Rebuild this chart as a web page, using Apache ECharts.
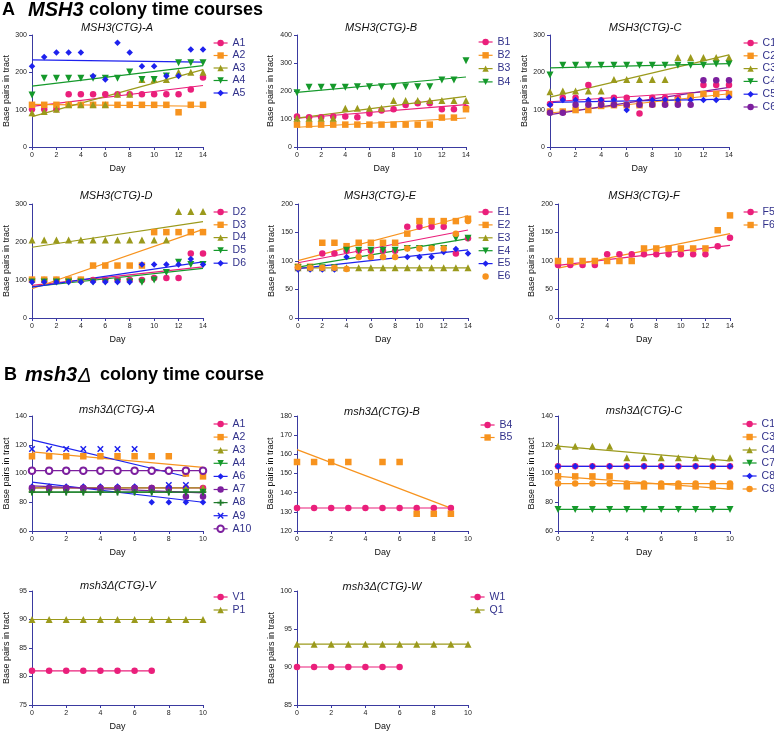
<!DOCTYPE html>
<html><head><meta charset="utf-8">
<script src="https://cdn.jsdelivr.net/npm/echarts@6/dist/echarts.min.js"></script>
<style>html,body{margin:0;padding:0;background:#fff}#c{width:774px;height:732px}</style>
</head><body><div id="c"></div>
<script>
// ---------- x values (days) ----------
const days14 = [0,1,2,3,4,5,6,7,8,9,10,11,12,13,14];
const days10 = [0,1,2,3,4,5,6,7,8,9,10];

// ---------- A: MSH3 colony time courses ----------
const MSH3_A_A1 = [101,101,101,141,141,141,141,141,141,141,141,141,141,154,186];
const MSH3_A_A2 = [113,113,113,113,113,113,113,113,113,113,113,113,93,113,113];
const MSH3_A_A3 = [92,95,101,113,113,113,113,141,141,181,181,181,200,200,200];
const MSH3_A_A4 = [139,184,184,184,184,184,184,184,201,181,181,190,226,226,226];
const MSH3_A_A5 = [216,241,253,253,253,190,181,279,253,216,216,190,190,261,261];

const MSH3_B_B1 = [109,106,106,109,109,106,120,130,135,150,156,156,135,135,140];
const MSH3_B_B2 = [80,80,80,80,80,80,80,80,80,80,80,80,105,105,135];
const MSH3_B_B3 = [103,103,103,103,138,138,138,138,166,166,166,166,166,166,166];
const MSH3_B_B4 = [194,213,213,213,213,215,215,215,215,215,215,215,239,239,308];

const MSH3_C_C1 = [115,132,132,166,125,132,132,90,132,132,132,132,166,166,166];
const MSH3_C_C2 = [95,95,99,99,110,112,112,112,115,118,125,135,142,142,142];
const MSH3_C_C3 = [148,150,150,150,150,181,181,181,181,181,240,240,240,240,240];
const MSH3_C_C4 = [193,219,219,219,219,219,219,219,219,219,219,219,219,222,222];
const MSH3_C_C5 = [113,126,126,126,126,126,99,126,126,126,126,126,126,126,133];
const MSH3_C_C6 = [92,92,113,113,113,113,113,113,113,113,113,113,179,179,179];

const MSH3_D_D2 = [100,100,100,100,100,100,100,100,100,100,105,105,105,170,170];
const MSH3_D_D3 = [101,101,101,101,101,138,138,138,138,138,226,226,226,226,226];
const MSH3_D_D4 = [205,205,205,205,205,205,205,205,205,205,205,205,280,280,280];
const MSH3_D_D5 = [95,95,95,95,95,95,95,95,95,94,100,120,147,141,141];
const MSH3_D_D6 = [95,95,95,95,95,95,95,95,95,141,141,141,141,155,141];

const MSH3_E_E1 = [88,88,113,113,118,118,118,118,118,160,160,160,160,113,140];
const MSH3_E_E2 = [90,90,132,132,126,132,132,132,132,148,170,170,170,170,174];
const MSH3_E_E3 = [88,88,88,88,88,88,88,88,88,88,88,88,88,88,88];
const MSH3_E_E4 = [88,88,88,88,119,119,119,119,119,122,122,122,122,140,140];
const MSH3_E_E5 = [85,85,85,85,107,107,107,107,107,107,107,107,116,121,113];
const MSH3_E_E6 = [89,88,88,88,86,107,107,107,107,122,122,122,122,148,170];

const MSH3_F_F5 = [93,93,93,93,112,112,112,112,112,112,112,112,112,126,141];
const MSH3_F_F6 = [100,100,100,100,100,100,100,122,122,122,122,122,122,154,180];

// ---------- B: msh3Δ colony time course ----------
const D_A_A1  = [90,90,90,90,90,90,90,90,90,90,90];
const D_A_A2  = [112,112,112,112,112,112,112,112,112,100,98];
const D_A_A3  = [90,90,90,90,90,90,90,90,90,90,90];
const D_A_A4  = [87,87,87,87,87,87,87,87,87,87,87];
const D_A_A6  = [91,91,91,91,91,91,91,80,80,80,80];
const D_A_A7  = [90,90,90,90,90,90,90,90,90,84,84];
const D_A_A8  = [87,87,87,87,87,87,87,87,87,87,87];
const D_A_A9  = [117,117,117,117,117,117,117,null,92,92,null];
const D_A_A10 = [102,102,102,102,102,102,102,102,102,102,102];

const D_B_B4 = [132,132,132,132,132,132,132,132,132,132,null];
const D_B_B5 = [156,156,156,156,null,156,156,129,129,129,null];

const D_C_C1 = [105,105,105,105,105,105,105,105,105,105,105];
const D_C_C3 = [98,98,98,98,91,91,91,91,91,91,91];
const D_C_C4 = [119,119,119,119,111,111,111,111,111,111,111];
const D_C_C7 = [75,75,75,75,75,75,75,75,75,75,75];
const D_C_C8 = [105,105,105,105,105,105,105,105,105,105,105];
const D_C_C9 = [93,93,93,93,93,93,93,93,93,93,93];

const D_V_V1 = [81,81,81,81,81,81,81,81];
const D_V_P1 = [90,90,90,90,90,90,90,90,90,90,90];
const D_W_W1 = [90,90,90,90,90,90,90];
const D_W_Q1 = [93,93,93,93,93,93,93,93,93,93,93];

// ---------- styling ----------
const COL = {pink:'#ea1f7b', orange:'#f7931e', olive:'#9b9a1c', green:'#15992b', blue:'#1e22ee', purple:'#7c1f9e', dkgreen:'#1f7a2a'};
const SYM = {
  circle:'circle', square:'rect', tri:'triangle', dtri:'path://M0,0L10,0L5,9Z', diamond:'diamond',
  plus:'path://M3.6,0H6.4V3.6H10V6.4H6.4V10H3.6V6.4H0V3.6H3.6Z',
  cross:'path://M0,1.6L1.6,0L5,3.4L8.4,0L10,1.6L6.6,5L10,8.4L8.4,10L5,6.6L1.6,10L0,8.4L3.4,5Z',
  ring:'emptyCircle'
};
const AXIS = '#3a3aa0', LEGTXT = '#30308a', FONT = '"Liberation Sans", Arial, sans-serif';

// [label, values, colour, symbol, fitted]
const panels = [
  {t:'MSH3(CTG)-A', tx:117, ty:28, g:[32,35,171,112], xs:days14, xmax:14, y:[0,300,100], yg:20, leg:[213,43,12.5], s:[
    ['A1',MSH3_A_A1,'pink','circle',1],['A2',MSH3_A_A2,'orange','square',1],['A3',MSH3_A_A3,'olive','tri',1],
    ['A4',MSH3_A_A4,'green','dtri',1],['A5',MSH3_A_A5,'blue','diamond',1]]},
  {t:'MSH3(CTG)-B', tx:381, ty:28, g:[297,35,169,112], xs:days14, xmax:14, y:[0,400,100], yg:22, leg:[478,42,13.3], s:[
    ['B1',MSH3_B_B1,'pink','circle',1],['B2',MSH3_B_B2,'orange','square',1],['B3',MSH3_B_B3,'olive','tri',1],
    ['B4',MSH3_B_B4,'green','dtri',1]]},
  {t:'MSH3(CTG)-C', tx:645, ty:28, g:[550,35,179,112], xs:days14, xmax:14, y:[0,300,100], yg:15, leg:[743,43,12.8], s:[
    ['C1',MSH3_C_C1,'pink','circle',1],['C2',MSH3_C_C2,'orange','square',1],['C3',MSH3_C_C3,'olive','tri',1],
    ['C4',MSH3_C_C4,'green','dtri',1],['C5',MSH3_C_C5,'blue','diamond',1],['C6',MSH3_C_C6,'purple','circle',1]]},
  {t:'MSH3(CTG)-D', tx:116, ty:196, g:[32,204,171,114], xs:days14, xmax:14, y:[0,300,100], yg:20, leg:[213,212,12.8], s:[
    ['D2',MSH3_D_D2,'pink','circle',1],['D3',MSH3_D_D3,'orange','square',1],['D4',MSH3_D_D4,'olive','tri',1],
    ['D5',MSH3_D_D5,'green','dtri',1],['D6',MSH3_D_D6,'blue','diamond',1]]},
  {t:'MSH3(CTG)-E', tx:380, ty:196, g:[298,204,170,114], xs:days14, xmax:14, y:[0,200,50], yg:22, leg:[478,212,12.9], s:[
    ['E1',MSH3_E_E1,'pink','circle',1],['E2',MSH3_E_E2,'orange','square',1],['E3',MSH3_E_E3,'olive','tri',1],
    ['E4',MSH3_E_E4,'green','dtri',1],['E5',MSH3_E_E5,'blue','diamond',1],['E6',MSH3_E_E6,'orange','circle',0]]},
  {t:'MSH3(CTG)-F', tx:644, ty:196, g:[558,204,172,114], xs:days14, xmax:14, y:[0,200,50], yg:22, leg:[743,212,13], s:[
    ['F5',MSH3_F_F5,'pink','circle',1],['F6',MSH3_F_F6,'orange','square',1]]},
  {t:'msh3Δ(CTG)-A', tx:117, ty:410, g:[32,416,171,115], xs:days10, xmax:10, y:[60,140,20], yg:21, leg:[213,424,13.1], s:[
    ['A1',D_A_A1,'pink','circle',1],['A2',D_A_A2,'orange','square',1],['A3',D_A_A3,'olive','tri',1],
    ['A4',D_A_A4,'green','dtri',1],['A6',D_A_A6,'blue','diamond',1],['A7',D_A_A7,'purple','circle',1],
    ['A8',D_A_A8,'dkgreen','plus',1],['A9',D_A_A9,'blue','cross',1],['A10',D_A_A10,'purple','ring',1]]},
  {t:'msh3Δ(CTG)-B', tx:382, ty:412, g:[297,416,171,115], xs:days10, xmax:10, y:[120,180,10], yg:22, leg:[480,425,12.5], s:[
    ['B4',D_B_B4,'pink','circle',1],['B5',D_B_B5,'orange','square',1]]},
  {t:'msh3Δ(CTG)-C', tx:644, ty:411, g:[558,416,172,115], xs:days10, xmax:10, y:[60,140,20], yg:22, leg:[742,424,13], s:[
    ['C1',D_C_C1,'pink','circle',1],['C3',D_C_C3,'orange','square',1],['C4',D_C_C4,'olive','tri',1],
    ['C7',D_C_C7,'green','dtri',1],['C8',D_C_C8,'blue','diamond',1],['C9',D_C_C9,'orange','circle',1]]},
  {t:'msh3Δ(CTG)-V', tx:118, ty:586, g:[32,591,171,114], xs:days10, xmax:10, y:[75,95,5], yg:21, leg:[213,597,13], s:[
    ['V1',D_V_V1,'pink','circle',1],['P1',D_V_P1,'olive','tri',1]]},
  {t:'msh3Δ(CTG)-W', tx:382, ty:587, g:[297,591,171,114], xs:days10, xmax:10, y:[85,100,5], yg:20, leg:[470,597,13], s:[
    ['W1',D_W_W1,'pink','circle',1],['Q1',D_W_Q1,'olive','tri',1]]}
];

function fitLine(xs, ys){
  const pts = ys.map((y,i)=>[xs[i],y]).filter(p=>p[1]!=null);
  const n = pts.length; let sx=0,sy=0,sxx=0,sxy=0;
  pts.forEach(([x,y])=>{sx+=x;sy+=y;sxx+=x*x;sxy+=x*y;});
  const b = (n*sxy-sx*sy)/(n*sxx-sx*sx), a = (sy-b*sx)/n;
  const x0 = pts[0][0], x1 = pts[n-1][0];
  return [[x0,a+b*x0],[x1,a+b*x1]];
}

const option = {animation:false, backgroundColor:'#fff', textStyle:{fontFamily:FONT},
  grid:[], xAxis:[], yAxis:[], legend:[], series:[], graphic:[]};

panels.forEach((p,i)=>{
  option.grid.push({left:p.g[0], top:p.g[1], width:p.g[2], height:p.g[3], containLabel:false});
  option.xAxis.push({type:'value', gridIndex:i, min:0, max:p.xmax, interval:2,
    name:'Day', nameLocation:'middle', nameGap:17, nameTextStyle:{fontSize:9, color:'#111', fontFamily:FONT},
    axisLine:{onZero:false, lineStyle:{color:AXIS, width:1}}, axisTick:{length:3, lineStyle:{color:AXIS}},
    axisLabel:{fontSize:7, color:'#222', margin:5, fontFamily:FONT}, splitLine:{show:false}});
  option.yAxis.push({type:'value', gridIndex:i, min:p.y[0], max:p.y[1], interval:p.y[2],
    name:'Base pairs in tract', nameLocation:'middle', nameGap:p.yg, nameTextStyle:{fontSize:9, color:'#111', fontFamily:FONT},
    axisLine:{show:true, onZero:false, lineStyle:{color:AXIS, width:1}}, axisTick:{show:true, length:3, lineStyle:{color:AXIS}},
    axisLabel:{fontSize:7, color:'#222', margin:5, fontFamily:FONT}, splitLine:{show:false}});
  option.graphic.push({type:'text', x:p.tx, y:p.ty, silent:true,
    style:{text:p.t, font:'italic 11px '+FONT, fill:'#111', align:'center', verticalAlign:'middle'}});
  const legData = [];
  p.s.forEach(([lab, vals, col, sym, fitted])=>{
    const c = COL[col];
    const nm = 'p'+i+'|'+lab;
    const pts = vals.map((v,k)=>[p.xs[k], v]).filter(q=>q[1]!=null);
    const isRing = sym==='ring';
    option.series.push({type:'line', name:nm, xAxisIndex:i, yAxisIndex:i, data:pts,
      symbol:SYM[sym], symbolSize: sym==='tri'||sym==='dtri' ? 7 : 6.5, showSymbol:true,
      lineStyle:{opacity:0, width:0}, itemStyle:{color:c, borderColor:c, borderWidth:isRing?1.5:0}, z:3});
    if (fitted) {
      option.series.push({type:'line', name:'fit '+nm, xAxisIndex:i, yAxisIndex:i, data:fitLine(p.xs, vals),
        symbol:'none', lineStyle:{color:c, width:1.2}, z:2, silent:true});
    }
    legData.push({name:nm, lineStyle:{color:c, width:1.2, opacity: fitted?1:0, type:'solid'}});
  });
  option.legend.push({orient:'vertical', left:p.leg[0], top:p.leg[1]-6, itemWidth:14, itemHeight:8,
    itemGap:p.leg[2]-12, padding:0, selectedMode:false, data:legData,
    formatter:n=>n.split('|')[1],
    textStyle:{fontSize:10.5, color:LEGTXT, lineHeight:12, fontFamily:FONT, padding:[0,0,0,0]}});
});

// section headings
const H = 'px '+FONT;
option.graphic.push(
  {type:'text', x:2, y:10, style:{text:'A', font:'bold 18'+H, fill:'#000', verticalAlign:'middle'}},
  {type:'text', x:28, y:10, style:{text:'MSH3', font:'italic bold 20'+H, fill:'#000', verticalAlign:'middle'}},
  {type:'text', x:89, y:10, style:{text:'colony time courses', font:'bold 18'+H, fill:'#000', verticalAlign:'middle'}},
  {type:'text', x:4, y:375, style:{text:'B', font:'bold 18'+H, fill:'#000', verticalAlign:'middle'}},
  {type:'text', x:25, y:375, style:{text:'msh3', font:'italic bold 20'+H, fill:'#000', verticalAlign:'middle'}},
  {type:'text', x:78, y:376, style:{text:'Δ', font:'italic 20'+H, fill:'#000', verticalAlign:'middle'}},
  {type:'text', x:100, y:375, style:{text:'colony time course', font:'bold 18'+H, fill:'#000', verticalAlign:'middle'}}
);

const chart = echarts.init(document.getElementById('c'), null, {renderer:'canvas'});
chart.setOption(option);
</script>
</body></html>
